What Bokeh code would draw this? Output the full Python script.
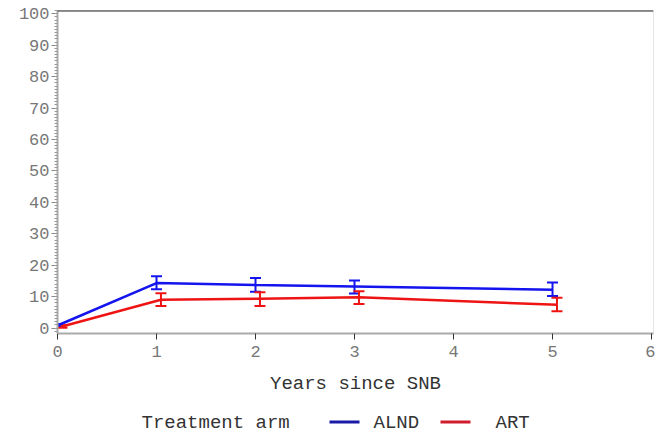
from bokeh.plotting import figure
from bokeh.layouts import column
from bokeh.models import (Range1d, ColumnDataSource, Whisker, TeeHead, Span,
                          SingleIntervalTicker)
from bokeh.core.properties import value
from bokeh.embed import file_html
from bokeh.resources import INLINE

# Data
years = [0, 1, 2, 3, 5]
alnd_mean = [0.8, 14.3, 13.7, 13.2, 12.2]
alnd_lo = [0.3, 12.3, 11.5, 11.0, 10.2]
alnd_hi = [1.3, 16.5, 15.9, 15.1, 14.5]
art_mean = [0.5, 9.0, 9.3, 9.8, 7.4]
art_lo = [0.1, 7.0, 7.0, 7.6, 5.3]
art_hi = [0.9, 11.1, 11.4, 11.7, 9.6]
series_names = ["ALND", "ART"]
x_label = "Years since SNB"
legend_title = "Treatment arm"

ALND_C = "#1414ee"
ART_C = "#ee1414"
DODGE = 0.045

p = figure(width=655, height=400, output_backend="svg", toolbar_location=None,
           x_range=Range1d(0, 6.02), y_range=Range1d(-1.75, 101.05),
           min_border_left=57, min_border_right=2, min_border_top=10,
           min_border_bottom=67)
p.background_fill_color = "white"
p.border_fill_color = "white"
p.outline_line_color = "#e6e6e6"
p.grid.visible = False

src_a = ColumnDataSource(dict(x=years, y=alnd_mean, lo=alnd_lo, hi=alnd_hi))
src_r = ColumnDataSource(dict(x=[v + DODGE for v in years], y=art_mean, lo=art_lo, hi=art_hi))

p.line("x", "y", source=src_a, line_color=ALND_C, line_width=2.5)
p.line("x", "y", source=src_r, line_color=ART_C, line_width=2.5)
for src, c in ((src_a, ALND_C), (src_r, ART_C)):
    w = Whisker(source=src, base="x", lower="lo", upper="hi", line_color=c, line_width=2,
                upper_head=TeeHead(size=11, line_color=c, line_width=2),
                lower_head=TeeHead(size=11, line_color=c, line_width=2))
    p.add_layout(w)

# top border
p.add_layout(Span(location=101.05, dimension="width", line_color="#222222", line_width=2))

# axes
xa = p.xaxis[0]
xa.ticker = SingleIntervalTicker(interval=1, num_minor_ticks=0)
xa.axis_line_color = "#aaaaaa"
xa.axis_line_width = 2
xa.major_tick_line_color = "#333333"
xa.major_tick_out = 6
xa.major_tick_in = 0
xa.major_label_text_font = "Liberation Mono"
xa.major_label_text_font_size = "17px"
xa.major_label_text_color = "#777777"
xa.major_label_standoff = 6
xa.axis_label = x_label
xa.axis_label_text_font = "Liberation Mono"
xa.axis_label_text_font_size = "19px"
xa.axis_label_text_font_style = "normal"
xa.axis_label_text_color = "#333333"
xa.axis_label_standoff = 13

ya = p.yaxis[0]
ya.ticker = SingleIntervalTicker(interval=10, num_minor_ticks=10)
ya.axis_line_color = "#aaaaaa"
ya.axis_line_width = 2
ya.major_tick_line_color = "#888888"
ya.major_tick_out = 6
ya.major_tick_in = 0
ya.minor_tick_line_color = "#999999"
ya.minor_tick_out = 3
ya.minor_tick_in = 0
ya.major_label_text_font = "Liberation Mono"
ya.major_label_text_font_size = "17px"
ya.major_label_text_color = "#777777"
ya.major_label_standoff = 2

# legend strip; its frame is aligned with the main frame (x in page pixels)
lg = figure(width=655, height=36, output_backend="svg", toolbar_location=None,
            x_range=Range1d(57, 653), y_range=Range1d(0, 36),
            min_border=0, min_border_left=57, min_border_right=2,
            min_border_top=0, min_border_bottom=0)
lg.axis.visible = False
lg.grid.visible = False
lg.outline_line_color = None
lg.background_fill_color = "white"
lg.border_fill_color = "white"
lg.text(x=[141, 373, 495], y=[14, 14, 14],
        text=[legend_title, series_names[0], series_names[1]],
        text_font=value("Liberation Mono"), text_font_size="19px",
        text_color="#333333", text_baseline="middle", text_align="left")
lg.segment(x0=[329, 440], x1=[359, 470], y0=[14.5, 14.5], y1=[14.5, 14.5],
           line_color=["#1a1aa8", "#d01c2c"], line_width=3)

layout = column(p, lg, spacing=0)
open("out.html", "w").write(file_html(layout, INLINE))
